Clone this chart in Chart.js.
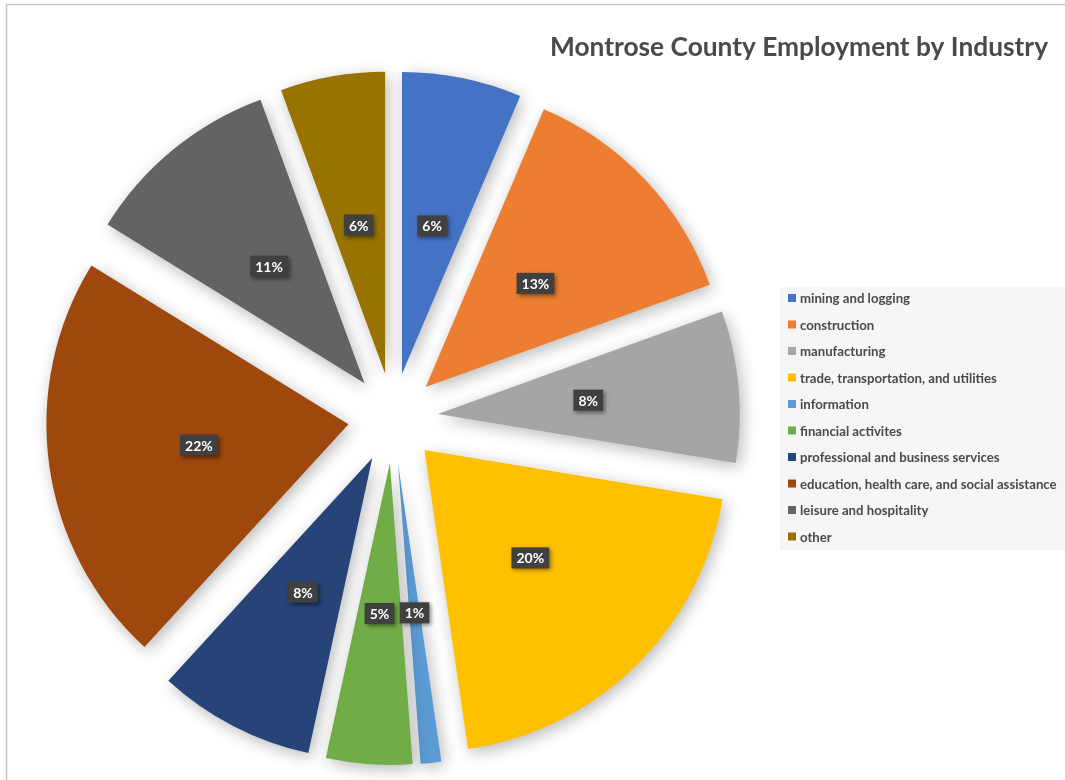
<!DOCTYPE html>
<html>
<head>
<meta charset="utf-8">
<title>Montrose County Employment by Industry</title>
<script src="https://cdn.jsdelivr.net/npm/chart.js@4.4.0/dist/chart.umd.min.js"></script>
<style>
  html, body { margin: 0; padding: 0; background: #fff; overflow: hidden; }
  #wrap { position: relative; width: 1065px; height: 780px; }
</style>
</head>
<body>
<div id="wrap"><canvas id="employmentChart"></canvas></div>
<script>
const chartTitle = 'Montrose County Employment by Industry';

const industries = [
  'mining and logging',
  'construction',
  'manufacturing',
  'trade, transportation, and utilities',
  'information',
  'financial activites',
  'professional and business services',
  'education, health care, and social assistance',
  'leisure and hospitality',
  'other'
];

// share of county employment, percent
const shares = [6.4, 13.1, 8.1, 20.1, 1.1, 4.6, 8.4, 22.0, 10.6, 5.6];

const sliceColors = [
  '#4472C4', '#ED7D31', '#A5A5A5', '#FFC000', '#5B9BD5',
  '#70AD47', '#264478', '#9E480E', '#636363', '#997300'
];

const EXPLODE = 45;   // how far each slice is pulled out (px)
const total = shares.reduce((a, b) => a + b, 0);

// Chart.js offset also grows small slices, so shift the arcs ourselves
const explodedPie = {
  id: 'explodedPie',
  beforeDatasetsDraw(chart) {
    const ctx = chart.ctx;
    const meta = chart.getDatasetMeta(0);
    ctx.save();
    ctx.shadowColor = 'rgba(0,0,0,0.28)';
    ctx.shadowBlur = 16;
    ctx.shadowOffsetX = 3;
    ctx.shadowOffsetY = 4;
    meta.data.forEach(arc => {
      const mid = (arc.startAngle + arc.endAngle) / 2;
      ctx.save();
      ctx.translate(Math.cos(mid) * EXPLODE, Math.sin(mid) * EXPLODE);
      arc.draw(ctx);
      ctx.restore();
    });
    ctx.restore();
    return false;
  }
};

// frame, title and legend box
const decorations = {
  id: 'decorations',
  beforeDraw(chart) {
    const ctx = chart.ctx;
    ctx.save();
    ctx.strokeStyle = '#c4c4c4';
    ctx.lineWidth = 1.5;
    ctx.beginPath();
    ctx.moveTo(6.5, 780);
    ctx.lineTo(6.5, 4.5);
    ctx.lineTo(1065, 4.5);
    ctx.stroke();

    ctx.fillStyle = '#4a4a4a';
    ctx.font = 'bold 26.3px Lato';
    ctx.textAlign = 'right';
    ctx.textBaseline = 'middle';
    ctx.fillText(chartTitle, 1048, 48);

    ctx.fillStyle = '#f6f6f6';
    ctx.fillRect(780, 287, 285, 263);
    ctx.font = 'bold 13.2px Lato';
    ctx.textAlign = 'left';
    industries.forEach((name, i) => {
      const y = 298 + i * 26.5;
      ctx.fillStyle = sliceColors[i];
      ctx.fillRect(788, y - 4, 8, 8);
      ctx.fillStyle = '#4a4a4a';
      ctx.fillText(name, 800, y + 1);
    });
    ctx.restore();
  }
};

const sliceLabels = {
  id: 'sliceLabels',
  afterDraw(chart) {
    const ctx = chart.ctx;
    const meta = chart.getDatasetMeta(0);
    ctx.save();
    ctx.font = 'bold 14px Lato';
    ctx.textAlign = 'center';
    ctx.textBaseline = 'middle';
    meta.data.forEach((arc, i) => {
      const mid = (arc.startAngle + arc.endAngle) / 2;
      const d = EXPLODE + arc.outerRadius / 2;
      const x = arc.x + Math.cos(mid) * d;
      const y = arc.y + Math.sin(mid) * d;
      const text = Math.round(shares[i] / total * 100) + '%';
      const w = ctx.measureText(text).width + 10;
      const h = 21;
      ctx.shadowColor = 'rgba(0,0,0,0.45)';
      ctx.shadowBlur = 4;
      ctx.shadowOffsetX = 2;
      ctx.shadowOffsetY = 2;
      ctx.fillStyle = '#404040';
      ctx.fillRect(x - w / 2, y - h / 2, w, h);
      ctx.shadowColor = 'transparent';
      ctx.fillStyle = '#ffffff';
      ctx.fillText(text, x, y + 1);
    });
    ctx.restore();
  }
};

new Chart(document.getElementById('employmentChart'), {
  type: 'pie',
  data: {
    labels: industries,
    datasets: [{
      data: shares,
      backgroundColor: sliceColors,
      borderWidth: 0,
      radius: 302
    }]
  },
  options: {
    responsive: true,
    maintainAspectRatio: false,
    animation: false,
    events: [],
    layout: { padding: { left: 0, right: 279, top: 56, bottom: 0 } },
    plugins: {
      legend: { display: false },
      title: { display: false },
      tooltip: { enabled: false }
    }
  },
  plugins: [decorations, explodedPie, sliceLabels]
});
</script>
</body>
</html>
